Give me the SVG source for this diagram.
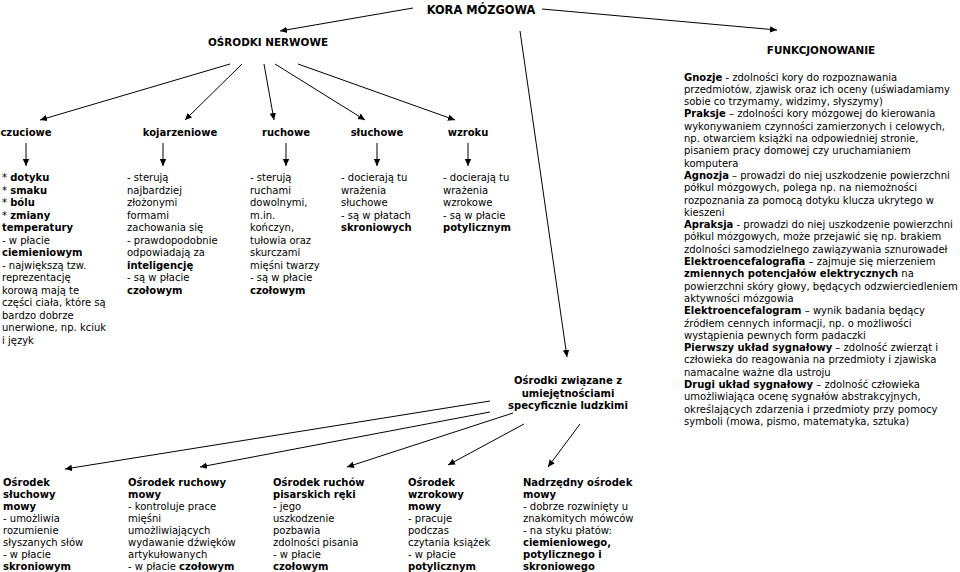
<svg xmlns="http://www.w3.org/2000/svg" width="960" height="572" viewBox="0 0 960 572">
<style>
text{font-family:"DejaVu Sans","Liberation Sans",sans-serif;font-size:10px;fill:#000}
.b{font-weight:bold}
.h{font-weight:bold;font-size:10.4px}
.k{font-weight:bold;font-size:11.4px}
.c{text-anchor:middle}
line{stroke:#000;stroke-width:1;fill:none}
</style>
<defs>
<marker id="ar" markerWidth="8" markerHeight="8" refX="7" refY="4" orient="auto" markerUnits="userSpaceOnUse">
<path d="M0,0.8 L7,4 L0,7.2 Z" fill="#000"/>
</marker>
</defs>
<rect width="960" height="572" fill="#fff"/>
<g id="connectors">
<line x1="413" y1="8" x2="280" y2="31" marker-end="url(#ar)"/>
<line x1="542" y1="9" x2="777" y2="30" marker-end="url(#ar)"/>
<line x1="520" y1="31" x2="567" y2="357" marker-end="url(#ar)"/>
<line x1="230" y1="64" x2="40" y2="120" marker-end="url(#ar)"/>
<line x1="242" y1="64" x2="185" y2="120" marker-end="url(#ar)"/>
<line x1="264" y1="64" x2="274" y2="120" marker-end="url(#ar)"/>
<line x1="275" y1="64" x2="365" y2="120" marker-end="url(#ar)"/>
<line x1="298" y1="64" x2="455" y2="120" marker-end="url(#ar)"/>
<line x1="26" y1="143" x2="26" y2="166" marker-end="url(#ar)"/>
<line x1="163" y1="143" x2="163" y2="166" marker-end="url(#ar)"/>
<line x1="286" y1="143" x2="286" y2="166" marker-end="url(#ar)"/>
<line x1="377" y1="143" x2="377" y2="166" marker-end="url(#ar)"/>
<line x1="468" y1="143" x2="468" y2="166" marker-end="url(#ar)"/>
<line x1="490" y1="401" x2="65" y2="469" marker-end="url(#ar)"/>
<line x1="490" y1="412" x2="200" y2="467" marker-end="url(#ar)"/>
<line x1="513" y1="413" x2="347" y2="467" marker-end="url(#ar)"/>
<line x1="524" y1="424" x2="448" y2="465" marker-end="url(#ar)"/>
<line x1="580" y1="424" x2="548" y2="467" marker-end="url(#ar)"/>
</g>
<g id="kora"><text class="k c" x="481" y="14">KORA MÓZGOWA</text></g>
<g id="osrodki"><text class="h c" x="268" y="46">OŚRODKI NERWOWE</text></g>
<g id="funkcjonowanie"><text class="h c" x="821" y="54">FUNKCJONOWANIE</text></g>
<g id="czuciowe">
<text class="b c" x="26" y="136">czuciowe</text>
<text x="2" y="181">* <tspan class="b">dotyku</tspan></text>
<text x="2" y="193.5">* <tspan class="b">smaku</tspan></text>
<text x="2" y="206">* <tspan class="b">bólu</tspan></text>
<text x="2" y="218.5">* <tspan class="b">zmiany</tspan></text>
<text class="b" x="2" y="231">temperatury</text>
<text x="2" y="243.5">- w płacie</text>
<text class="b" x="2" y="256">ciemieniowym</text>
<text x="2" y="268.5">- największą tzw.</text>
<text x="2" y="281">reprezentację</text>
<text x="2" y="293.5">korową mają te</text>
<text x="2" y="306">części ciała, które są</text>
<text x="2" y="318.5">bardzo dobrze</text>
<text x="2" y="331">unerwione, np. kciuk</text>
<text x="2" y="343.5">i język</text>
</g>
<g id="kojarzeniowe">
<text class="b c" x="180" y="136">kojarzeniowe</text>
<text x="127" y="181">- sterują</text>
<text x="127" y="193.5">najbardziej</text>
<text x="127" y="206">złożonymi</text>
<text x="127" y="218.5">formami</text>
<text x="127" y="231">zachowania się</text>
<text x="127" y="243.5">- prawdopodobnie</text>
<text x="127" y="256">odpowiadają za</text>
<text class="b" x="127" y="268.5">inteligencję</text>
<text x="127" y="281">- są w płacie</text>
<text class="b" x="127" y="293.5">czołowym</text>
</g>
<g id="ruchowe">
<text class="b c" x="286" y="136">ruchowe</text>
<text x="250" y="181">- sterują</text>
<text x="250" y="193.5">ruchami</text>
<text x="250" y="206">dowolnymi,</text>
<text x="250" y="218.5">m.in.</text>
<text x="250" y="231">kończyn,</text>
<text x="250" y="243.5">tułowia oraz</text>
<text x="250" y="256">skurczami</text>
<text x="250" y="268.5">mięśni twarzy</text>
<text x="250" y="281">- są w płacie</text>
<text class="b" x="250" y="293.5">czołowym</text>
</g>
<g id="sluchowe">
<text class="b c" x="377" y="136">słuchowe</text>
<text x="341" y="181">- docierają tu</text>
<text x="341" y="193.5">wrażenia</text>
<text x="341" y="206">słuchowe</text>
<text x="341" y="218.5">- są w płatach</text>
<text class="b" x="341" y="231">skroniowych</text>
</g>
<g id="wzroku">
<text class="b c" x="468" y="136">wzroku</text>
<text x="443" y="181">- docierają tu</text>
<text x="443" y="193.5">wrażenia</text>
<text x="443" y="206">wzrokowe</text>
<text x="443" y="218.5">- są w płacie</text>
<text class="b" x="443" y="231">potylicznym</text>
</g>
<g id="specyficzne">
<text class="b c" x="568" y="384">Ośrodki związane z</text>
<text class="b c" x="568" y="396.5">umiejętnościami</text>
<text class="b c" x="568" y="409">specyficznie ludzkimi</text>
</g>
<g id="funkcjonowanie-text">
<text x="684" y="80.5"><tspan class="b">Gnozje</tspan> - zdolności kory do rozpoznawania</text>
<text x="684" y="92.8">przedmiotów, zjawisk oraz ich oceny (uświadamiamy</text>
<text x="684" y="105.1">sobie co trzymamy, widzimy, słyszymy)</text>
<text x="684" y="117.4"><tspan class="b">Praksje</tspan> – zdolności kory mózgowej do kierowania</text>
<text x="684" y="129.7">wykonywaniem czynności zamierzonych i celowych,</text>
<text x="684" y="142">np. otwarciem książki na odpowiedniej stronie,</text>
<text x="684" y="154.3">pisaniem pracy domowej czy uruchamianiem</text>
<text x="684" y="166.6">komputera</text>
<text x="684" y="178.9"><tspan class="b">Agnozja</tspan> – prowadzi do niej uszkodzenie powierzchni</text>
<text x="684" y="191.2">półkul mózgowych, polega np. na niemożności</text>
<text x="684" y="203.5">rozpoznania za pomocą dotyku klucza ukrytego w</text>
<text x="684" y="215.8">kieszeni</text>
<text x="684" y="228.1"><tspan class="b">Apraksja</tspan> - prowadzi do niej uszkodzenie powierzchni</text>
<text x="684" y="240.4">półkul mózgowych, może przejawić się np. brakiem</text>
<text x="684" y="252.7">zdolności samodzielnego zawiązywania sznurowadeł</text>
<text x="684" y="265"><tspan class="b">Elektroencefalografia</tspan> – zajmuje się mierzeniem</text>
<text x="684" y="277.3"><tspan class="b">zmiennych potencjałów elektrycznych</tspan> na</text>
<text x="684" y="289.6">powierzchni skóry głowy, będących odzwierciedleniem</text>
<text x="684" y="301.9">aktywności mózgowia</text>
<text x="684" y="314.2"><tspan class="b">Elektroencefalogram</tspan> – wynik badania będący</text>
<text x="684" y="326.5">źródłem cennych informacji, np. o możliwości</text>
<text x="684" y="338.8">wystąpienia pewnych form padaczki</text>
<text x="684" y="351.1"><tspan class="b">Pierwszy układ sygnałowy</tspan> – zdolność zwierząt i</text>
<text x="684" y="363.4">człowieka do reagowania na przedmioty i zjawiska</text>
<text x="684" y="375.7">namacalne ważne dla ustroju</text>
<text x="684" y="388"><tspan class="b">Drugi układ sygnałowy</tspan> – zdolność człowieka</text>
<text x="684" y="400.3">umożliwiająca ocenę sygnałów abstrakcyjnych,</text>
<text x="684" y="412.6">określających zdarzenia i przedmioty przy pomocy</text>
<text x="684" y="424.9">symboli (mowa, pismo, matematyka, sztuka)</text>
</g>
<g id="sluchowy-mowy">
<text class="b" x="3" y="486">Ośrodek</text>
<text class="b" x="3" y="498">słuchowy</text>
<text class="b" x="3" y="510">mowy</text>
<text x="3" y="522">- umożliwia</text>
<text x="3" y="534">rozumienie</text>
<text x="3" y="546">słyszanych słów</text>
<text x="3" y="558">- w płacie</text>
<text class="b" x="3" y="570">skroniowym</text>
</g>
<g id="ruchowy-mowy">
<text class="b" x="128" y="486">Ośrodek ruchowy</text>
<text class="b" x="128" y="498">mowy</text>
<text x="128" y="510">- kontroluje prace</text>
<text x="128" y="522">mięśni</text>
<text x="128" y="534">umożliwiających</text>
<text x="128" y="546">wydawanie dźwięków</text>
<text x="128" y="558">artykułowanych</text>
<text x="128" y="570">- w płacie <tspan class="b">czołowym</tspan></text>
</g>
<g id="ruchow-pisarskich">
<text class="b" x="273" y="486">Ośrodek ruchów</text>
<text class="b" x="273" y="498">pisarskich ręki</text>
<text x="273" y="510">- jego</text>
<text x="273" y="522">uszkodzenie</text>
<text x="273" y="534">pozbawia</text>
<text x="273" y="546">zdolności pisania</text>
<text x="273" y="558">- w płacie</text>
<text class="b" x="273" y="570">czołowym</text>
</g>
<g id="wzrokowy-mowy">
<text class="b" x="408" y="486">Ośrodek</text>
<text class="b" x="408" y="498">wzrokowy</text>
<text class="b" x="408" y="510">mowy</text>
<text x="408" y="522">- pracuje</text>
<text x="408" y="534">podczas</text>
<text x="408" y="546">czytania książek</text>
<text x="408" y="558">- w płacie</text>
<text class="b" x="408" y="570">potylicznym</text>
</g>
<g id="nadrzedny">
<text class="b" x="523" y="486">Nadrzędny ośrodek</text>
<text class="b" x="523" y="498">mowy</text>
<text x="523" y="510">- dobrze rozwinięty u</text>
<text x="523" y="522">znakomitych mówców</text>
<text x="523" y="534">- na styku płatów:</text>
<text class="b" x="523" y="546">ciemieniowego,</text>
<text class="b" x="523" y="558">potylicznego i</text>
<text class="b" x="523" y="570">skroniowego</text>
</g>
</svg>
